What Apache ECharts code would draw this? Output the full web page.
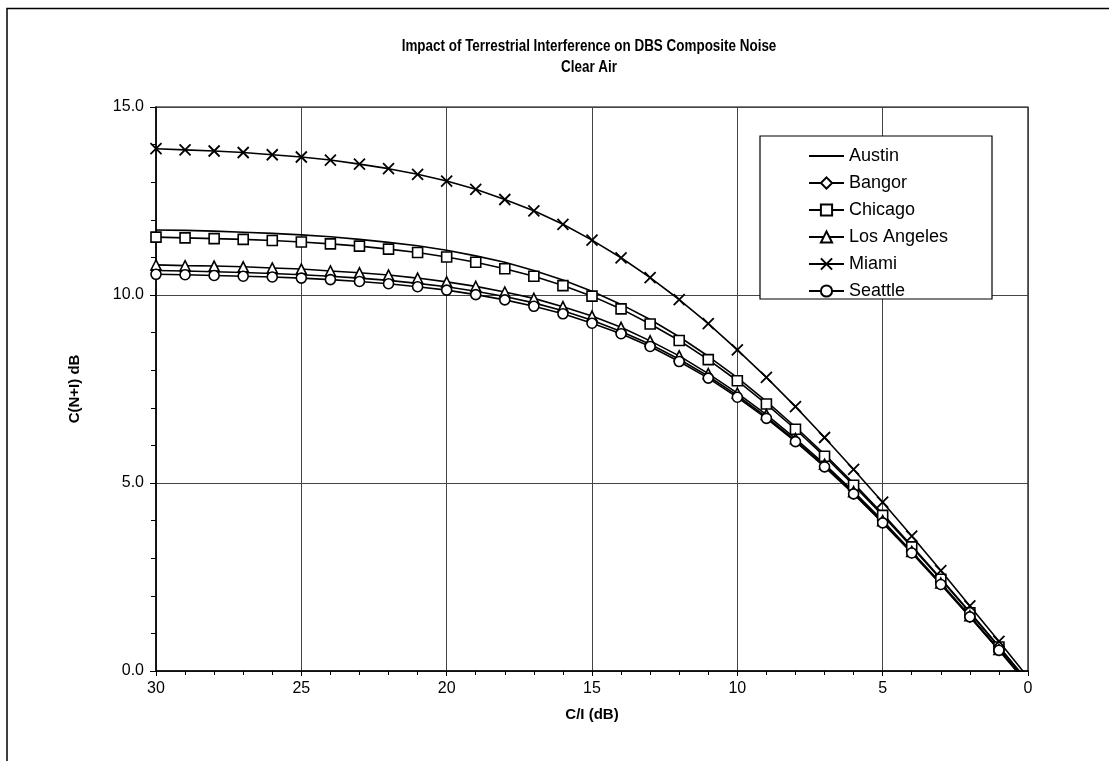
<!DOCTYPE html>
<html>
<head>
<meta charset="utf-8">
<script src="https://cdn.jsdelivr.net/npm/echarts@6/dist/echarts.min.js"></script>
<style>
html,body{margin:0;padding:0;background:#fff;}
#chart{width:1109px;height:761px;}
</style>
</head>
<body>
<div id="chart"></div>
<script>
// C/I values (dB)
const ciValues = [30,29,28,27,26,25,24,23,22,21,20,19,18,17,16,15,14,13,12,11,10,9,8,7,6,5,4,3,2,1,0];

const austin     = [11.73,11.72,11.70,11.67,11.64,11.60,11.55,11.48,11.40,11.31,11.19,11.04,10.87,10.65,10.40,10.10,9.75,9.35,8.89,8.37,7.80,7.17,6.49,5.76,4.99,4.18,3.33,2.46,1.57,0.65,-0.28];
const bangor     = [10.65,10.64,10.62,10.60,10.57,10.54,10.50,10.45,10.39,10.31,10.22,10.10,9.96,9.79,9.58,9.33,9.03,8.69,8.29,7.84,7.33,6.76,6.13,5.46,4.73,3.96,3.16,2.32,1.45,0.56,-0.35];
const chicago    = [11.54,11.52,11.50,11.48,11.45,11.41,11.36,11.30,11.22,11.13,11.01,10.87,10.70,10.50,10.25,9.97,9.63,9.23,8.79,8.28,7.72,7.10,6.43,5.71,4.94,4.14,3.30,2.44,1.55,0.64,-0.29];
const losAngeles = [10.80,10.78,10.77,10.75,10.72,10.69,10.64,10.59,10.53,10.45,10.35,10.23,10.08,9.91,9.69,9.44,9.14,8.78,8.38,7.91,7.39,6.82,6.18,5.50,4.77,4.00,3.18,2.34,1.47,0.57,-0.34];
const miami      = [13.89,13.86,13.83,13.79,13.73,13.67,13.59,13.48,13.36,13.21,13.03,12.81,12.54,12.24,11.88,11.46,10.99,10.46,9.88,9.24,8.54,7.81,7.03,6.21,5.36,4.49,3.59,2.67,1.73,0.79,-0.17];
const seattle    = [10.55,10.54,10.52,10.50,10.48,10.45,10.41,10.36,10.30,10.22,10.13,10.01,9.87,9.70,9.50,9.25,8.97,8.63,8.23,7.79,7.28,6.72,6.10,5.43,4.71,3.94,3.14,2.30,1.44,0.55,-0.36];

const seriesNames = ['Austin','Bangor','Chicago','Los Angeles','Miami','Seattle'];

const titleText = 'Impact of Terrestrial Interference on DBS Composite Noise';
const subtitleText = 'Clear Air';
const xName = 'C/I (dB)';
const yName = 'C(N+I) dB';

function pairs(vals){ return ciValues.map((c,i)=>[c, vals[i]]); }

const xSym = 'path://M0 0L10 10M10 0L0 10';
const common = {
  type: 'line',
  clip: true,
  lineStyle: { color: '#000', width: 1.6 },
  itemStyle: { color: '#fff', borderColor: '#000', borderWidth: 1.6 },
  symbolSize: 10,
  showAllSymbol: true,
  animation: false
};

const font = 'Liberation Sans, Arial, sans-serif';

const chart = echarts.init(document.getElementById('chart'), null, {renderer:'canvas'});
chart.setOption({
  backgroundColor: '#fff',
  animation: false,
  graphic: [
    { type: 'polyline', z: 0, shape: { points: [[7, 770],[7, 8.5],[1109, 8.5]] }, style: { stroke: '#000', lineWidth: 1.5, fill: null } },
    { type: 'text', z: 10, x: 589, y: 47, scaleX: 0.84, style: { text: titleText, fill: '#000', font: 'bold 16px Liberation Sans, Arial', align: 'center', verticalAlign: 'middle' } },
    { type: 'text', z: 10, x: 589, y: 68, scaleX: 0.84, style: { text: subtitleText, fill: '#000', font: 'bold 16px Liberation Sans, Arial', align: 'center', verticalAlign: 'middle' } },
    { type: 'rect', z: 20, shape: { x: 760, y: 136, width: 232, height: 163 }, style: { fill: '#fff', stroke: '#000', lineWidth: 1.2 } }
  ],
  legend: {
    z: 30,
    orient: 'vertical',
    left: 803,
    top: 141,
    itemWidth: 35,
    itemHeight: 14,
    itemGap: 7,
    data: [
      { name: 'Austin', itemStyle: { opacity: 0 } },
      'Bangor','Chicago','Los Angeles','Miami','Seattle'
    ],
    textStyle: { fontFamily: font, fontSize: 18, color: '#000', lineHeight: 20 },
    inactiveColor: '#000'
  },
  grid: { left: 156, right: 81, top: 107, bottom: 90, show: true, borderColor: '#000', borderWidth: 1.2, backgroundColor: '#fff' },
  xAxis: {
    type: 'value', min: 0, max: 30, interval: 5, inverse: true, position: 'bottom',
    name: xName, nameLocation: 'middle', nameGap: 36,
    nameTextStyle: { fontFamily: font, fontWeight: 'bold', fontSize: 15, color: '#000' },
    axisLine: { show: true, onZero: false, lineStyle: { color: '#000', width: 1.5 } },
    axisTick: { show: true, length: 5, lineStyle: { color: '#000' } },
    minorTick: { show: true, splitNumber: 5, length: 4, lineStyle: { color: '#000' } },
    axisLabel: { fontFamily: font, fontSize: 16, color: '#000', margin: 10 },
    splitLine: { show: true, lineStyle: { color: '#444', width: 1 } }
  },
  yAxis: {
    type: 'value', min: 0, max: 15, interval: 5, position: 'left',
    name: yName, nameLocation: 'middle', nameGap: 74, nameRotate: 90,
    nameTextStyle: { fontFamily: font, fontWeight: 'bold', fontSize: 15, color: '#000' },
    axisLine: { show: true, onZero: false, lineStyle: { color: '#000', width: 1.5 } },
    axisTick: { show: true, length: 6, lineStyle: { color: '#000' } },
    minorTick: { show: true, splitNumber: 5, length: 5, lineStyle: { color: '#000' } },
    axisLabel: { fontFamily: font, fontSize: 16, color: '#000', margin: 12, formatter: v => v.toFixed(1) },
    splitLine: { show: true, lineStyle: { color: '#444', width: 1 } }
  },
  series: [
    Object.assign({}, common, { name: 'Austin', data: pairs(austin), symbol: 'circle', symbolSize: 0, showSymbol: false }),
    Object.assign({}, common, { name: 'Bangor', data: pairs(bangor), symbol: 'diamond', symbolSize: [9, 11] }),
    Object.assign({}, common, { name: 'Chicago', data: pairs(chicago), symbol: 'rect', symbolSize: 10 }),
    Object.assign({}, common, { name: 'Los Angeles', data: pairs(losAngeles), symbol: 'triangle', symbolSize: 10 }),
    Object.assign({}, common, { name: 'Miami', data: pairs(miami), symbol: xSym, symbolSize: 11, itemStyle: { color: 'rgba(0,0,0,0)', borderColor: '#000', borderWidth: 1.8 } }),
    Object.assign({}, common, { name: 'Seattle', data: pairs(seattle), symbol: 'circle', symbolSize: 10 })
  ]
});
</script>
</body>
</html>
